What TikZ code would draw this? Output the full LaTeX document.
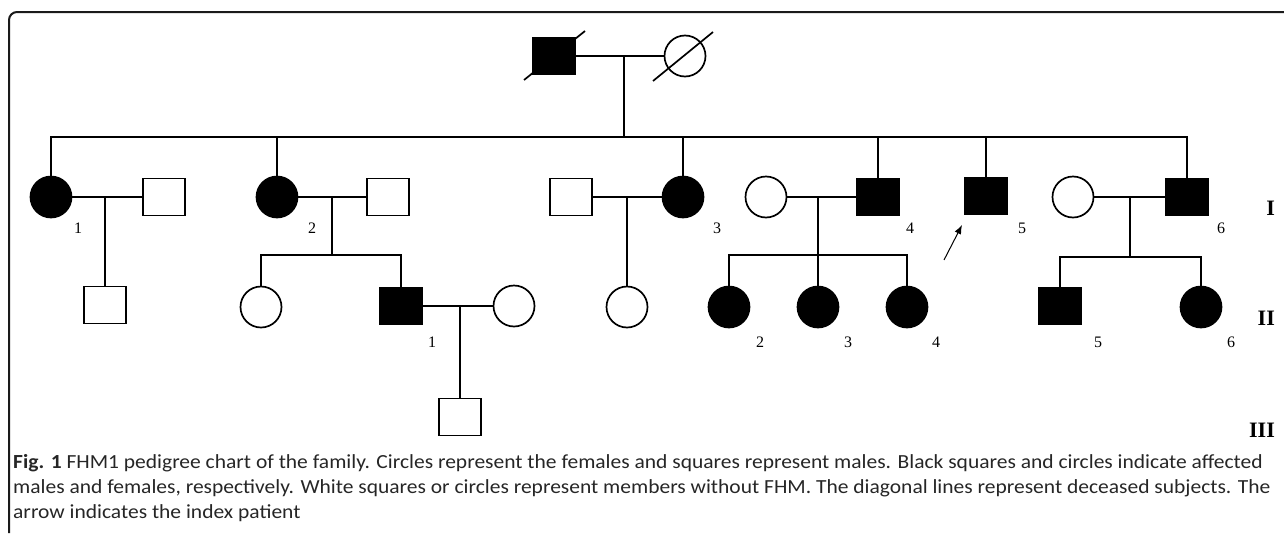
\documentclass[tikz,border=0pt]{standalone}
\usepackage{fontspec}
\setmainfont{Liberation Serif}
\newfontfamily\capfont[FakeStretch=1.075]{Carlito}
\usepackage{tikz}
\usetikzlibrary{arrows.meta,positioning,calc}
\definecolor{inkline}{HTML}{1A1A1A}
\definecolor{captext}{HTML}{262626}

\tikzset{
  male/.style={draw=black, line width=1.7pt, rectangle, minimum width=42pt, minimum height=37pt, inner sep=0pt, fill=white},
  female/.style={draw=black, line width=1.7pt, circle, minimum size=41pt, inner sep=0pt, fill=white},
  affected/.style={fill=black},
  num/.style={font=\fontsize{16}{16}\selectfont, inner sep=0pt},
  gen/.style={font=\fontsize{22}{22}\selectfont\bfseries, inner sep=0pt, anchor=east},
  rel/.style={line width=1.7pt, black},
}

\begin{document}
\begin{tikzpicture}[x=1pt, y=-1pt]
  \useasboundingbox (0,0) rectangle (1284,533);
  % frame of the figure
  \draw[inkline, line width=2pt, rounded corners=8pt] (9,533) -- (9,12) -- (1284,12);

  % founders
  \node[male, affected] (f1) at (554,56) {};
  \node[female] (f2) at (685,56) {};
  \coordinate (m0) at (624,56);
  \coordinate (s0) at (624,137);
  \draw[rel] (f1) -- (f2);
  \draw[rel] ([shift={(-30,24)}]f1.center) -- ([shift={(31,-25)}]f1.center);
  \draw[rel] ([shift={(-32,25)}]f2.center) -- ([shift={(28,-24)}]f2.center);

  % generation I
  \node[female, affected] (a1) at (51,197) {};
  \node[male] (a1s) at (164,197) {};
  \node[female, affected] (a2) at (277,197) {};
  \node[male] (a2s) at (388,197) {};
  \node[male] (a3s) at (571,197) {};
  \node[female, affected] (a3) at (683,197) {};
  \node[female] (a4s) at (766,197) {};
  \node[male, affected] (a4) at (878,197) {};
  \node[male, affected] (a5) at (986,196) {};
  \node[female] (a6s) at (1073,197) {};
  \node[male, affected] (a6) at (1187,197) {};

  \draw[rel] (m0) -- (s0);
  \draw[rel] (a1.north) |- (s0) -| (a6.north);
  \foreach \p in {a2,a3,a4,a5}{\draw[rel] (\p.north) -- (\p.north |- s0);}

  \node[num] (a1n) at ([shift={(27,31)}]a1) {1};
  \node[num] (a2n) at ([shift={(35,31)}]a2) {2};
  \node[num] (a3n) at ([shift={(34,31)}]a3) {3};
  \node[num] (a4n) at ([shift={(32,31)}]a4) {4};
  \node[num] (a5n) at ([shift={(36,32)}]a5) {5};
  \node[num] (a6n) at ([shift={(34,31)}]a6) {6};

  % family of I-1
  \coordinate (m1) at (105,197);
  \node[male] (c1) at (105,305) {};
  \draw[rel] (a1) -- (a1s);
  \draw[rel] (m1) -- (c1);

  % family of I-2
  \coordinate (m2) at (332,197);
  \coordinate (s2) at (332,255);
  \node[female] (b1) at (261,307) {};
  \node[male, affected] (b2) at (401,306) {};
  \node[female] (b2s) at (514,306) {};
  \node[male] (d1) at (460,417) {};
  \coordinate (m3) at (460,306);
  \draw[rel] (a2) -- (a2s);
  \draw[rel] (m2) -- (s2);
  \draw[rel] (b1.north) |- (s2) -| (b2.north);
  \draw[rel] (b2) -- (b2s);
  \draw[rel] (m3) -- (d1);
  \node[num] (b2n) at ([shift={(31,36)}]b2) {1};

  % family of I-3
  \coordinate (m4) at (627,197);
  \node[female] (c3) at (627,307) {};
  \draw[rel] (a3s) -- (a3);
  \draw[rel] (m4) -- (c3);

  % family of I-4
  \coordinate (m5) at (818,197);
  \coordinate (s5) at (818,255);
  \node[female, affected] (b3) at (729,307) {};
  \node[female, affected] (b4) at (818,307) {};
  \node[female, affected] (b5) at (907,307) {};
  \draw[rel] (a4s) -- (a4);
  \draw[rel] (m5) -- (b4);
  \draw[rel] (b3.north) |- (s5) -| (b5.north);
  \node[num] (b3n) at ([shift={(31,35)}]b3) {2};
  \node[num] (b4n) at ([shift={(30,35)}]b4) {3};
  \node[num] (b5n) at ([shift={(29,35)}]b5) {4};

  % index patient
  \coordinate (ar0) at (944,260);
  \coordinate (ar1) at (962,225);
  \draw[line width=1pt, -{Latex[length=9pt, width=7pt]}] (ar0) -- (ar1);

  % family of I-6
  \coordinate (m6) at (1130,197);
  \coordinate (s6) at (1130,257);
  \node[male, affected] (b6) at (1060,306) {};
  \node[female, affected] (b7) at (1201,307) {};
  \draw[rel] (a6s) -- (a6);
  \draw[rel] (m6) -- (s6);
  \draw[rel] (b6.north) |- (s6) -| (b7.north);
  \node[num] (b6n) at ([shift={(38,36)}]b6) {5};
  \node[num] (b7n) at ([shift={(30,35)}]b7) {6};

  % generations
  \node[gen] (g1) at (1275,208) {I};
  \node[gen] (g2) at (1275,318) {II};
  \node[gen] (g3) at (1275,430) {III};

  % caption
  \node[anchor=north west, align=left, inner sep=0pt, text=captext,
        font=\capfont\fontsize{20}{25}\selectfont] (cap) at (13,454)
    {\textbf{Fig. 1} FHM1 pedigree chart of the family. Circles represent the females and squares represent males. Black squares and circles indicate affected\\
     males and females, respectively. White squares or circles represent members without FHM. The diagonal lines represent deceased subjects. The\\
     arrow indicates the index patient};
\end{tikzpicture}
\end{document}
